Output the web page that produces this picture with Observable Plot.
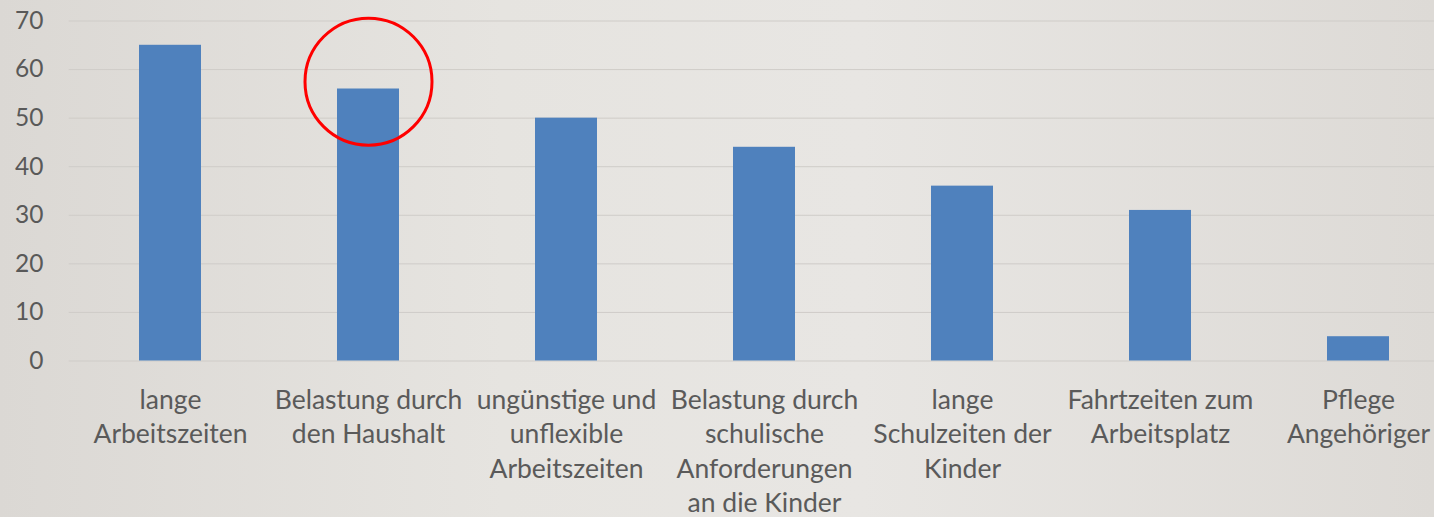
<!DOCTYPE html>
<html>
<head>
<meta charset="utf-8">
<script src="https://cdn.jsdelivr.net/npm/d3@7"></script>
<script src="https://cdn.jsdelivr.net/npm/@observablehq/plot@0.6"></script>
<style>
  html, body { margin: 0; padding: 0; }
  body {
    width: 1434px; height: 517px; overflow: hidden;
    background: linear-gradient(to right, #dbd8d4 0%, #e6e4e0 35%, #e8e6e3 60%, #dddad6 100%);
  }
  svg { display: block; background: transparent !important; }
</style>
</head>
<body>
<div id="chart"></div>
<script>
const categories = [
  "lange\nArbeitszeiten",
  "Belastung durch\nden Haushalt",
  "ungünstige und\nunflexible\nArbeitszeiten",
  "Belastung durch\nschulische\nAnforderungen\nan die Kinder",
  "lange\nSchulzeiten der\nKinder",
  "Fahrtzeiten zum\nArbeitsplatz",
  "Pflege\nAngehöriger"
];
const values = [65, 56, 50, 44, 36, 31, 5];
const yTicks = [0, 10, 20, 30, 40, 50, 60, 70];
const highlight = [{category: categories[1], value: 57.5}];

const data = categories.map((c, i) => ({category: c, value: values[i]}));

const chart = Plot.plot({
  width: 1434,
  height: 517,
  marginTop: 20.5,
  marginBottom: 156.5,
  marginLeft: 68.7,
  marginRight: 0,
  style: {background: "transparent", fontFamily: "Lato, sans-serif", color: "#595959"},
  x: {domain: categories, range: [68.7, 1459.3], paddingInner: 0.688, paddingOuter: 0.344, label: null},
  y: {domain: [0, 70], label: null},
  marks: [
    Plot.gridY(yTicks, {stroke: "#cfccc8", strokeOpacity: 1, strokeWidth: 1}),
    Plot.barY(data, {x: "category", y: "value", fill: "#4f81bd"}),
    Plot.axisY(yTicks, {tickSize: 0, tickPadding: 25.7, fontSize: 24.5, fill: "#595959", tickFormat: d => String(d)}),
    Plot.axisX({tickSize: 0, tickPadding: 23.5, fontSize: 26.5, lineHeight: 1.295, fill: "#5a5a5a", lineAnchor: "top"}),
    Plot.dot(highlight, {x: "category", y: "value", r: 63.5, stroke: "#ff0000", strokeWidth: 3, fill: "none"})
  ]
});
document.getElementById("chart").appendChild(chart);
</script>
</body>
</html>
